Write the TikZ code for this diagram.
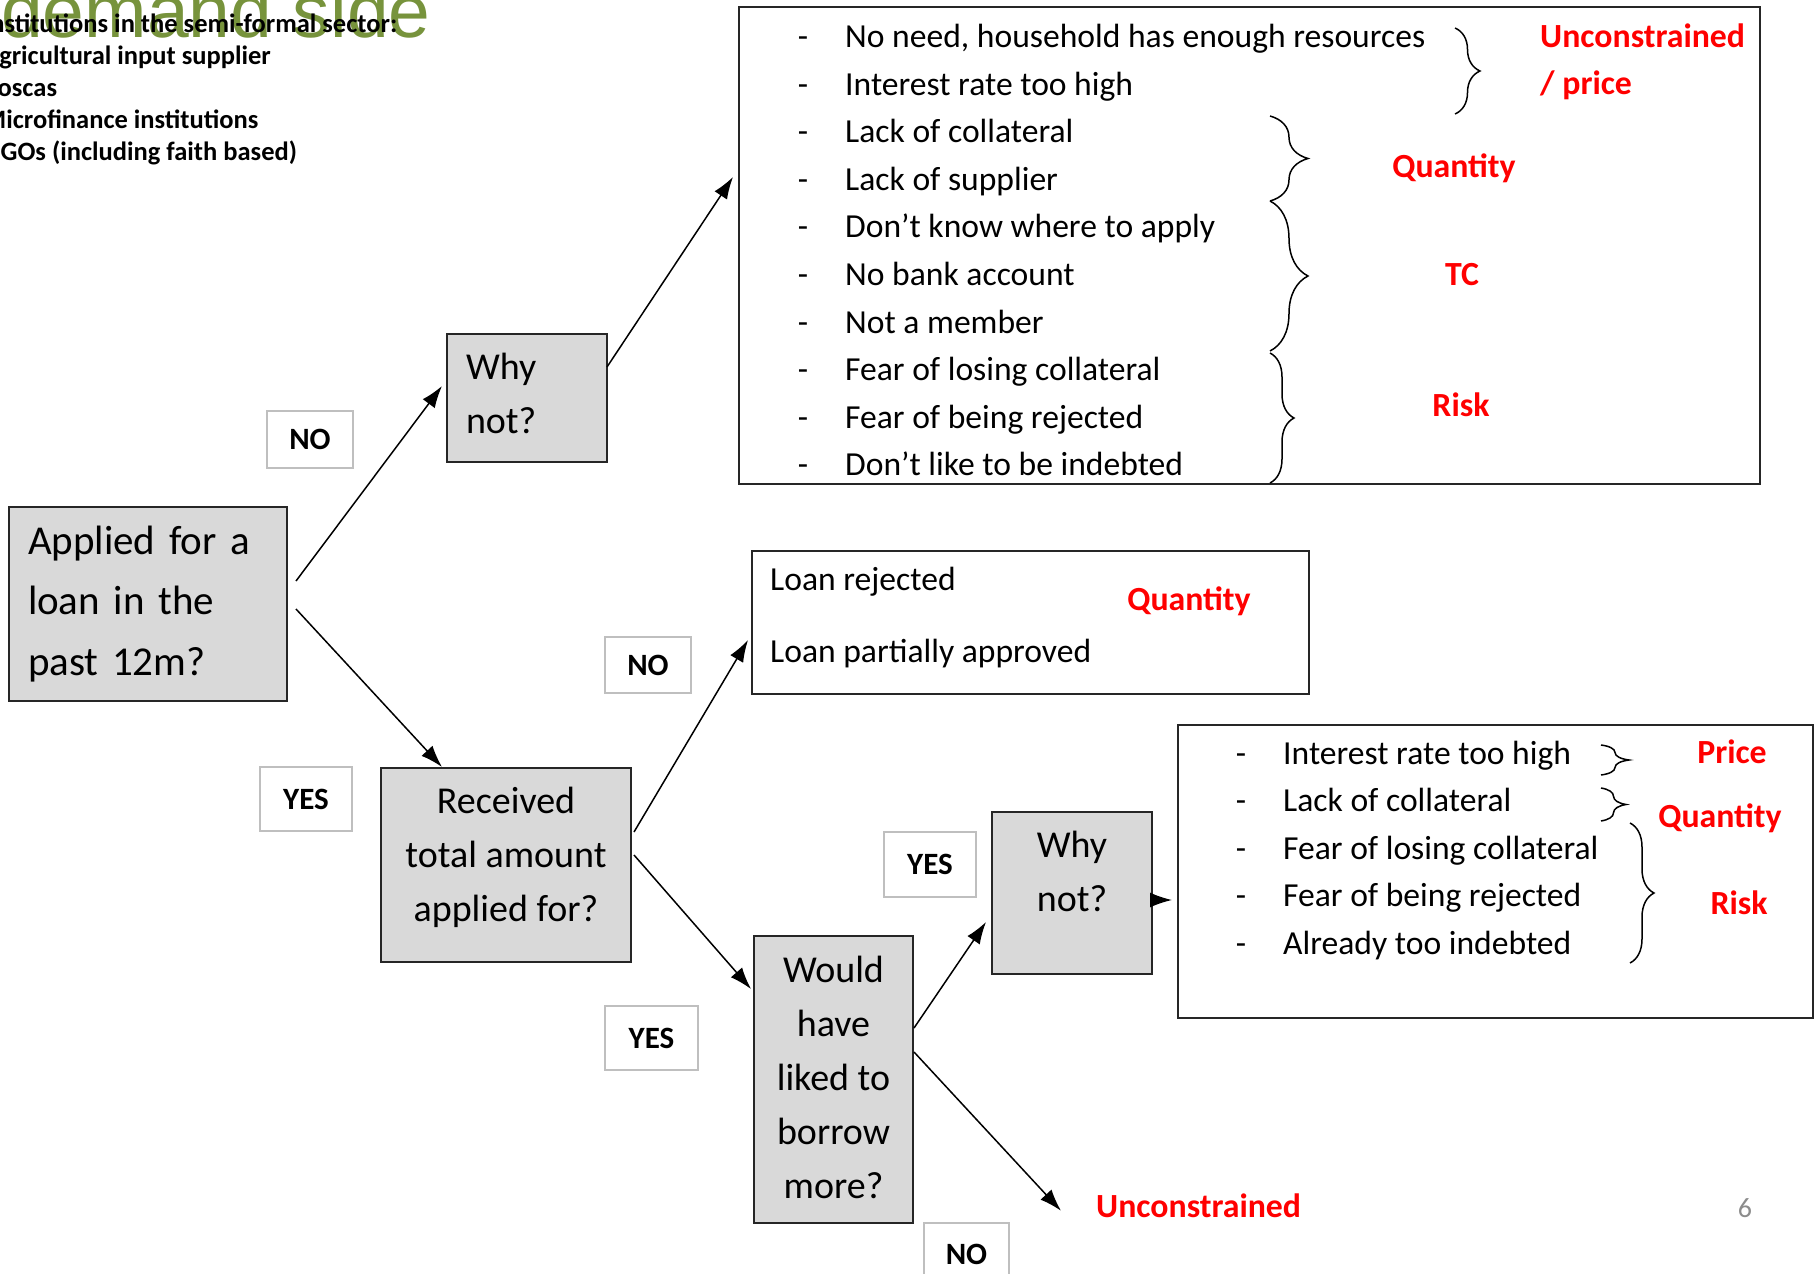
\documentclass[tikz,border=0pt]{standalone}
\usepackage{fontspec}
\setmainfont{Carlito}
\newfontfamily\titrefont{Liberation Sans}
\usetikzlibrary{arrows.meta,calc,decorations.pathreplacing}

\definecolor{grisboite}{HTML}{D9D9D9}
\definecolor{vertolive}{HTML}{77933C}
\definecolor{rougevif}{HTML}{FF0000}
\definecolor{grispage}{HTML}{8C8C8C}

\begin{document}
\begin{tikzpicture}[x=1pt, y=-1pt]
	\tikzset{question/.style={draw=black!85, fill=grisboite, line width=2pt, inner sep=0pt, anchor=north west, align=center, font=\fontsize{38}{54}\selectfont},
	etiquette/.style={draw=black!25, line width=2pt, inner sep=0pt, font=\fontsize{31}{31}\selectfont\bfseries},
	liste/.style={draw=black!85, line width=2pt, inner sep=0pt, anchor=north west},
	item/.style={inner sep=0pt, anchor=base west, font=\fontsize{33.6}{40}\selectfont},
	tiret/.style={inner sep=0pt, anchor=base, font=\fontsize{33.6}{40}\selectfont},
	rouge/.style={inner sep=0pt, anchor=base, text=rougevif, font=\fontsize{33.8}{40}\selectfont\bfseries},
	fleche/.style={line width=1.5pt, ->, >={Latex[length=22pt, width=15pt]}},
	accolade/.style={line width=1.5pt, decorate, decoration={brace, amplitude=#1}}};

	\useasboundingbox (0,0) rectangle (1815,1274);
	\clip (0,0) rectangle (1815,1274);

	\node[inner sep=0pt, anchor=base west, text=vertolive, font=\titrefont\fontsize{75}{75}\selectfont] (titre) at (1,37) {demand side};
	\foreach \ligne/\y in {Institutions in the semi-formal sector:/32, Agricultural input supplier/64, Roscas/96, Microfinance institutions/128, NGOs (including faith based)/160}
		\node[inner sep=0pt, anchor=base west, font=\fontsize{26.5}{32}\selectfont\bfseries] (inst-\y) at (-17,\y) {\ligne};

	\node[question, minimum width=278pt, minimum height=194pt, text width=240pt, align=left, font=\fontsize{41}{60.5}\selectfont] (demande) at (8,506) {Applied for a\\loan in the\\past 12m?};
	\node[question, minimum width=160pt, minimum height=128pt, text width=122pt, align=left, text depth=64pt] (pourquoi1) at (446,333) {Why\\not?};
	\node[question, minimum width=250pt, minimum height=194pt, text depth=22pt] (recu) at (380,767) {Received\\total amount\\applied for?};
	\node[question, minimum width=159pt, minimum height=287pt, text depth=5pt] (plus) at (753,935) {Would\\have\\liked to\\borrow\\more?};
	\node[question, minimum width=160pt, minimum height=162pt, text depth=44pt] (pourquoi2) at (991,811) {Why\\not?};

	\node[etiquette, minimum width=86pt, minimum height=57pt] (non1) at (310,439.5) {NO};
	\node[etiquette, minimum width=92pt, minimum height=64pt] (oui1) at (306,799) {YES};
	\node[etiquette, minimum width=86pt, minimum height=56pt] (non2) at (648,665) {NO};
	\node[etiquette, minimum width=93pt, minimum height=64pt] (oui2) at (651.5,1038) {YES};
	\node[etiquette, minimum width=92pt, minimum height=65pt] (oui3) at (930,864.5) {YES};
	\node[etiquette, minimum width=85pt, minimum height=62pt] (non3) at (966.5,1254) {NO};

	\node[liste, minimum width=1021pt, minimum height=477pt] (raisons1) at (738,6) {};
	\foreach \i/\txt in {0/{No need, household has enough resources}, 1/Interest rate too high, 2/Lack of collateral, 3/Lack of supplier, 4/Don’t know where to apply, 5/No bank account, 6/Not a member, 7/Fear of losing collateral, 8/Fear of being rejected, 9/Don’t like to be indebted} {
		\node[tiret] (t1-\i) at (803, {47.5+47.6*\i}) {-};
		\node[item] (r1-\i) at (845, {47.5+47.6*\i}) {\txt};
	}
	\draw[accolade=25pt] (1455,28) -- (1455,114);
	\draw[accolade=38pt] (1270,116) -- (1270,201);
	\draw[accolade=38pt] (1270,201) -- (1270,351);
	\draw[accolade=24pt] (1270,353) -- (1270,483);
	\node[rouge, anchor=base west] (rouge-libre1) at (1540,47.5) {Unconstrained};
	\node[rouge, anchor=base west] (rouge-prix1) at (1540,94.5) {/ price};
	\node[rouge] (rouge-qte1) at (1454,177.5) {Quantity};
	\node[rouge] (rouge-tc) at (1462,285) {TC};
	\node[rouge] (rouge-risque1) at (1461,416) {Risk};

	\node[liste, minimum width=557pt, minimum height=143pt] (refus) at (751,550) {};
	\node[item] (refus-1) at (770,590) {Loan rejected};
	\node[item] (refus-2) at (770,662) {Loan partially approved};
	\node[rouge] (rouge-qte2) at (1189,610) {Quantity};

	\node[liste, minimum width=635pt, minimum height=293pt] (raisons2) at (1177,724) {};
	\foreach \i/\txt in {0/Interest rate too high, 1/Lack of collateral, 2/Fear of losing collateral, 3/Fear of being rejected, 4/Already too indebted} {
		\node[tiret] (t2-\i) at (1241, {764+47.5*\i}) {-};
		\node[item] (r2-\i) at (1283, {764+47.5*\i}) {\txt};
	}
	\draw[accolade=28pt] (1601,745) -- (1601,775);
	\draw[accolade=25pt] (1601,788) -- (1601,821);
	\draw[accolade=24pt] (1630,823) -- (1630,963);
	\node[rouge] (rouge-prix2) at (1732,763) {Price};
	\node[rouge] (rouge-qte3) at (1720,827) {Quantity};
	\node[rouge] (rouge-risque2) at (1739,914) {Risk};

	\node[rouge, anchor=base west] (libre) at (1096,1217) {Unconstrained};
	\node[inner sep=0pt, anchor=base, text=grispage, font=\fontsize{28}{28}\selectfont] (page) at (1745,1217) {6};

	\draw[fleche] ($(demande.east)+(8,-23)$) -- ($(pourquoi1.west)+(-4,-12)$);
	\draw[fleche] ($(pourquoi1.east)+(-1,-31)$) -- ($(raisons1.west)+(-5,-68.5)$);
	\draw[fleche] ($(demande.east)+(8,5)$) -- ($(recu.north)+(-64,0)$);
	\draw[fleche] ($(recu.east)+(2,-33)$) -- ($(refus.west)+(-3,17.5)$);
	\draw[fleche] ($(recu.east)+(2,-10)$) -- ($(plus.west)+(-2,-90.5)$);
	\draw[fleche] ($(plus.east)+(0,-51.5)$) -- ($(pourquoi2.west)+(-5,29)$);
	\draw[fleche] ($(plus.east)+(0,-27.5)$) -- ($(libre.west)+(-35,5.5)$);
	\draw[fleche] ($(pourquoi2.east)+(0,7)$) -- ($(raisons2.west)+(-5,28.5)$);
\end{tikzpicture}
\end{document}
